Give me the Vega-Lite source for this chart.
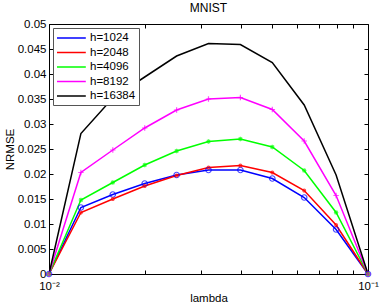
{
  "$schema": "https://vega.github.io/schema/vega-lite/v6.json",
  "width": 319,
  "height": 250,
  "autosize": {"type": "none"},
  "padding": {"left": 49, "top": 24, "right": 13, "bottom": 33},
  "background": "white",
  "config": {
    "font": "Arial",
    "view": {"stroke": "black", "strokeWidth": 1},
    "axis": {"grid": false, "domainColor": "black", "tickColor": "black", "labelColor": "black", "titleColor": "black", "labelFontSize": 11.5, "titleFontSize": 11.5, "titleFontWeight": "normal", "labelFont": "Arial", "titleFont": "Arial"},
    "legend": {"labelFont": "Arial"}
  },
  "title": {"text": "MNIST", "fontSize": 12, "fontWeight": "normal", "font": "Arial", "color": "black", "offset": 3},
  "data": {"values": [
    {"lambda": 0.01, "h": "h=1024", "v": 0},
    {"lambda": 0.012589, "h": "h=1024", "v": 0.0133},
    {"lambda": 0.015849, "h": "h=1024", "v": 0.0159},
    {"lambda": 0.019953, "h": "h=1024", "v": 0.0181},
    {"lambda": 0.025119, "h": "h=1024", "v": 0.0198},
    {"lambda": 0.031623, "h": "h=1024", "v": 0.0208},
    {"lambda": 0.039811, "h": "h=1024", "v": 0.0208},
    {"lambda": 0.050119, "h": "h=1024", "v": 0.0191},
    {"lambda": 0.063096, "h": "h=1024", "v": 0.0153},
    {"lambda": 0.079433, "h": "h=1024", "v": 0.0089},
    {"lambda": 0.1, "h": "h=1024", "v": 0},
    {"lambda": 0.01, "h": "h=2048", "v": 0},
    {"lambda": 0.012589, "h": "h=2048", "v": 0.0123},
    {"lambda": 0.015849, "h": "h=2048", "v": 0.015},
    {"lambda": 0.019953, "h": "h=2048", "v": 0.0176},
    {"lambda": 0.025119, "h": "h=2048", "v": 0.0197},
    {"lambda": 0.031623, "h": "h=2048", "v": 0.0213},
    {"lambda": 0.039811, "h": "h=2048", "v": 0.0217},
    {"lambda": 0.050119, "h": "h=2048", "v": 0.0203},
    {"lambda": 0.063096, "h": "h=2048", "v": 0.0167},
    {"lambda": 0.079433, "h": "h=2048", "v": 0.0098},
    {"lambda": 0.1, "h": "h=2048", "v": 0},
    {"lambda": 0.01, "h": "h=4096", "v": 0},
    {"lambda": 0.012589, "h": "h=4096", "v": 0.0148},
    {"lambda": 0.015849, "h": "h=4096", "v": 0.0183},
    {"lambda": 0.019953, "h": "h=4096", "v": 0.0218},
    {"lambda": 0.025119, "h": "h=4096", "v": 0.0246},
    {"lambda": 0.031623, "h": "h=4096", "v": 0.0265},
    {"lambda": 0.039811, "h": "h=4096", "v": 0.027},
    {"lambda": 0.050119, "h": "h=4096", "v": 0.0254},
    {"lambda": 0.063096, "h": "h=4096", "v": 0.0207},
    {"lambda": 0.079433, "h": "h=4096", "v": 0.0123},
    {"lambda": 0.1, "h": "h=4096", "v": 0},
    {"lambda": 0.01, "h": "h=8192", "v": 0},
    {"lambda": 0.012589, "h": "h=8192", "v": 0.0203},
    {"lambda": 0.015849, "h": "h=8192", "v": 0.0248},
    {"lambda": 0.019953, "h": "h=8192", "v": 0.0292},
    {"lambda": 0.025119, "h": "h=8192", "v": 0.0328},
    {"lambda": 0.031623, "h": "h=8192", "v": 0.035},
    {"lambda": 0.039811, "h": "h=8192", "v": 0.0353},
    {"lambda": 0.050119, "h": "h=8192", "v": 0.0329},
    {"lambda": 0.063096, "h": "h=8192", "v": 0.0266},
    {"lambda": 0.079433, "h": "h=8192", "v": 0.0157},
    {"lambda": 0.1, "h": "h=8192", "v": 0},
    {"lambda": 0.01, "h": "h=16384", "v": 0},
    {"lambda": 0.012589, "h": "h=16384", "v": 0.0281},
    {"lambda": 0.015849, "h": "h=16384", "v": 0.0352},
    {"lambda": 0.019953, "h": "h=16384", "v": 0.0394},
    {"lambda": 0.025119, "h": "h=16384", "v": 0.0436},
    {"lambda": 0.031623, "h": "h=16384", "v": 0.0461},
    {"lambda": 0.039811, "h": "h=16384", "v": 0.0459},
    {"lambda": 0.050119, "h": "h=16384", "v": 0.0423},
    {"lambda": 0.063096, "h": "h=16384", "v": 0.0338},
    {"lambda": 0.079433, "h": "h=16384", "v": 0.0198},
    {"lambda": 0.1, "h": "h=16384", "v": 0}
  ]},
  "layer": [
    {
      "mark": {"type": "line", "strokeWidth": 1.5, "clip": false},
      "encoding": {
        "x": {"field": "lambda", "type": "quantitative", "scale": {"type": "log", "domain": [0.01, 0.1], "nice": false},
          "axis": {"orient": "bottom", "title": "lambda", "values": [0.01, 0.02, 0.03, 0.04, 0.05, 0.06, 0.07, 0.08, 0.09, 0.1],
            "labelExpr": "datum.value == 0.01 ? '10⁻²' : (datum.value == 0.1 ? '10⁻¹' : '')",
            "tickSize": -4, "labelPadding": 10, "domain": true, "titleY": 18, "labelFlush": false}},
        "y": {"field": "v", "type": "quantitative", "scale": {"domain": [0, 0.05], "nice": false, "zero": true},
          "axis": {"orient": "left", "title": "NRMSE", "values": [0, 0.005, 0.01, 0.015, 0.02, 0.025, 0.03, 0.035, 0.04, 0.045, 0.05],
            "format": "~g", "tickSize": -4, "labelPadding": 7, "titleX": -34}},
        "color": {"field": "h", "type": "nominal",
          "scale": {"domain": ["h=1024", "h=2048", "h=4096", "h=8192", "h=16384"], "range": ["#0000ff", "#ff0000", "#00ff00", "#ff00ff", "#000000"]},
          "legend": {"title": null, "orient": "top-left", "offset": 4, "symbolType": "M-1,0H3.8", "symbolSize": 144, "symbolStrokeWidth": 1.5, "symbolFillColor": "transparent",
            "labelFontSize": 11.5, "labelColor": "black", "strokeColor": "#555555", "fillColor": "white", "padding": 3, "rowPadding": 1.5, "labelOffset": 20}}
      }
    },
    {
      "transform": [{"filter": "datum.h != 'h=16384'"}],
      "mark": {"type": "point", "filled": false, "strokeWidth": 1.2, "size": 30, "clip": false},
      "encoding": {
        "x": {"field": "lambda", "type": "quantitative", "scale": {"type": "log", "domain": [0.01, 0.1], "nice": false},
          "axis": {"orient": "top", "title": null, "labels": false, "domain": false, "values": [0.01, 0.02, 0.03, 0.04, 0.05, 0.06, 0.07, 0.08, 0.09, 0.1], "tickSize": -4}},
        "y": {"field": "v", "type": "quantitative", "scale": {"domain": [0, 0.05], "nice": false},
          "axis": {"orient": "right", "title": null, "labels": false, "domain": false, "values": [0, 0.005, 0.01, 0.015, 0.02, 0.025, 0.03, 0.035, 0.04, 0.045, 0.05], "tickSize": -4}},
        "color": {"field": "h", "type": "nominal", "legend": null},
        "shape": {"field": "h", "type": "nominal", "legend": null,
          "scale": {"domain": ["h=1024", "h=2048", "h=4096", "h=8192"], "range": ["circle", "M-0.5,0A0.5,0.5,0,1,0,0.5,0A0.5,0.5,0,1,0,-0.5,0Z", "M-0.8,0H0.8M0,-0.8V0.8M-0.6,-0.6L0.6,0.6M-0.6,0.6L0.6,-0.6", "M-1,0H1M0,-1V1"]}}
      }
    }
  ],
  "resolve": {"axis": {"x": "independent", "y": "independent"}}
}
